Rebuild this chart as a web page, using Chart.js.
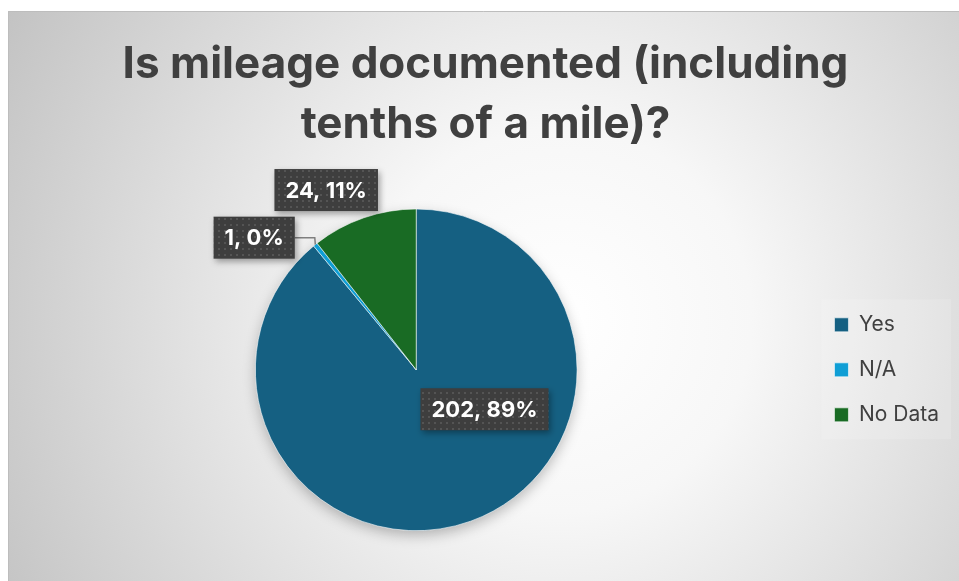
<!DOCTYPE html>
<html>
<head>
<meta charset="utf-8">
<script src="https://cdn.jsdelivr.net/npm/chart.js@4"></script>
<style>
html, body { margin: 0; padding: 0; background: #ffffff; }
#wrap { width: 959px; height: 581px; }
</style>
</head>
<body>
<div id="wrap"><canvas id="mileageChart" width="959" height="581"></canvas></div>
<script>
const categories = ["Yes", "N/A", "No Data"];
const counts = [202, 1, 24];
const sliceColors = ["#156082", "#0F9ED5", "#196B24"];
const titleLines = ["Is mileage documented (including", "tenths of a mile)?"];

// where each data label sits: angle in degrees (canvas), distance as share of radius
const labelSpots = [
  { angle: 30, dist: 0.49, leader: false },
  { angle: -140.8, dist: 1.30, leader: true },
  { angle: -116.6, dist: 1.25, leader: false }
];

const total = counts.reduce((a, b) => a + b, 0);

function dotPattern(ctx) {
  const p = document.createElement("canvas");
  p.width = 6; p.height = 6;
  const pc = p.getContext("2d");
  pc.fillStyle = "#3e3e3e";
  pc.fillRect(0, 0, 6, 6);
  pc.fillStyle = "#545454";
  pc.fillRect(2, 2, 2, 2);
  return ctx.createPattern(p, "repeat");
}

const frameBg = {
  id: "frameBg",
  beforeDraw(chart) {
    const ctx = chart.ctx;
    ctx.save();
    ctx.fillStyle = "#ffffff";
    ctx.fillRect(0, 0, chart.width, chart.height);
    const g = ctx.createRadialGradient(560, 320, 0, 560, 320, 640);
    g.addColorStop(0, "#ffffff");
    g.addColorStop(0.3, "#f7f7f7");
    g.addColorStop(1, "#c2c2c2");
    ctx.fillStyle = g;
    ctx.fillRect(8, 11, chart.width - 8, chart.height - 11);
    ctx.strokeStyle = "#bdbdbd";
    ctx.lineWidth = 1;
    ctx.beginPath();
    ctx.moveTo(8.5, chart.height);
    ctx.lineTo(8.5, 11.5);
    ctx.lineTo(chart.width, 11.5);
    ctx.stroke();

    // faint panel behind the legend
    const hb = chart.legend && chart.legend.legendHitBoxes;
    if (hb && hb.length) {
      const l = Math.min(...hb.map(b => b.left)) - 13;
      const t = Math.min(...hb.map(b => b.top)) - 15;
      const r = Math.max(...hb.map(b => b.left + b.width)) + 12;
      const btm = Math.max(...hb.map(b => b.top + b.height)) + 14;
      ctx.fillStyle = "rgba(255,255,255,0.15)";
      ctx.fillRect(l, t, r - l, btm - t);
    }
    ctx.restore();
  },
  beforeDatasetsDraw(chart) {
    const arc = chart.getDatasetMeta(0).data[0];
    if (!arc) return;
    const ctx = chart.ctx;
    ctx.save();
    ctx.shadowColor = "rgba(0,0,0,0.28)";
    ctx.shadowBlur = 14;
    ctx.shadowOffsetY = 5;
    ctx.fillStyle = "#156082";
    ctx.beginPath();
    ctx.arc(arc.x, arc.y, arc.outerRadius - 1, 0, Math.PI * 2);
    ctx.fill();
    ctx.restore();
  }
};

const boxLabels = {
  id: "boxLabels",
  afterDatasetsDraw(chart) {
    const ctx = chart.ctx;
    const meta = chart.getDatasetMeta(0);
    const pattern = dotPattern(ctx);
    ctx.save();
    ctx.font = "bold 22px Inter, 'Liberation Sans', sans-serif";
    ctx.textAlign = "center";
    ctx.textBaseline = "middle";
    meta.data.forEach((arc, i) => {
      const spot = labelSpots[i];
      const v = counts[i];
      const text = v + ", " + Math.round(v / total * 100) + "%";
      const a = spot.angle * Math.PI / 180;
      const cx = arc.x + Math.cos(a) * arc.outerRadius * spot.dist;
      const cy = arc.y + Math.sin(a) * arc.outerRadius * spot.dist;
      const w = ctx.measureText(text).width + 22;
      const h = 42;
      if (spot.leader) {
        const mid = (arc.startAngle + arc.endAngle) / 2;
        const ex = arc.x + Math.cos(mid) * arc.outerRadius;
        const ey = arc.y + Math.sin(mid) * arc.outerRadius;
        ctx.strokeStyle = "#7f7f7f";
        ctx.lineWidth = 1.5;
        ctx.beginPath();
        ctx.moveTo(cx + w / 2, cy);
        ctx.lineTo(cx + w / 2 + 20, cy);
        ctx.lineTo(ex, ey);
        ctx.stroke();
      }
      ctx.save();
      ctx.shadowColor = "rgba(0,0,0,0.35)";
      ctx.shadowBlur = 6;
      ctx.shadowOffsetX = 2;
      ctx.shadowOffsetY = 3;
      ctx.fillStyle = pattern;
      ctx.fillRect(cx - w / 2, cy - h / 2, w, h);
      ctx.restore();
      ctx.fillStyle = "#ffffff";
      ctx.fillText(text, cx, cy + 1);
    });
    ctx.restore();
  }
};

new Chart(
  document.getElementById("mileageChart"),
  {
    type: "pie",
    data: {
      labels: categories,
      datasets: [{
        data: counts,
        backgroundColor: sliceColors,
        borderColor: "#ffffff",
        borderWidth: 0.6
      }]
    },
    options: {
      responsive: false,
      animation: false,
      layout: {
        padding: { left: 22, top: 11, right: 10, bottom: 50 }
      },
      plugins: {
        title: {
          display: true,
          text: titleLines,
          color: "#404040",
          font: { family: "Inter, 'Liberation Sans', sans-serif", size: 44, weight: "bold", lineHeight: 1.36 },
          padding: { top: 24, bottom: 54 }
        },
        legend: {
          position: "right",
          fullSize: false,
          labels: {
            boxWidth: 14,
            boxHeight: 14,
            padding: 24,
            color: "#404040",
            font: { family: "Inter, sans-serif", size: 21 }
          }
        },
        tooltip: { enabled: false }
      }
    },
    plugins: [frameBg, boxLabels]
  }
);
</script>
</body>
</html>
